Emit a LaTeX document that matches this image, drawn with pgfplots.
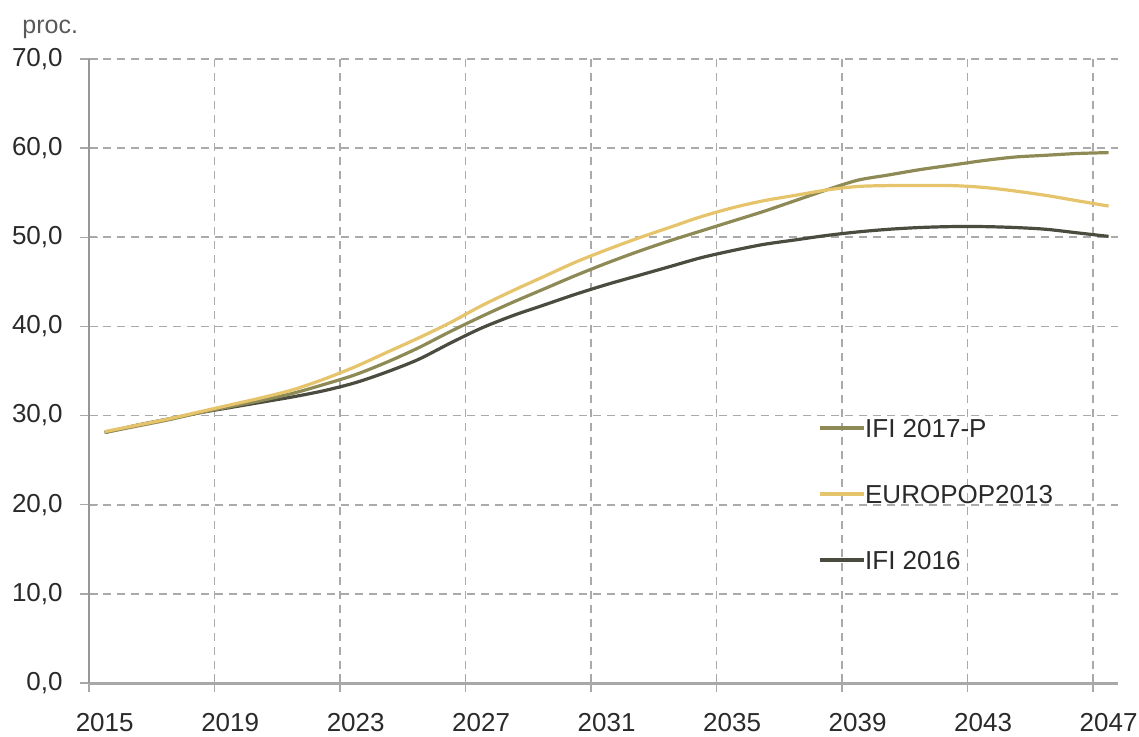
\documentclass[border=0pt]{standalone}
\usepackage{pgfplots}
\pgfplotsset{compat=1.18}
\usepackage{pgfplotstable}
\usepackage{fontspec}
\setmainfont{Liberation Sans}
\definecolor{ifiP}{HTML}{8E8A55}
\definecolor{euro}{HTML}{E6C46C}
\definecolor{ifiS}{HTML}{4B4B3F}
\definecolor{gridc}{HTML}{AAAAAA}
\definecolor{axc}{HTML}{A8A8A8}
\definecolor{txt}{HTML}{2A2A2A}

% x = year + 0.5 (values centred in each year's category)
\pgfplotstableread{
x       ifiP  euro  ifiS
2015.5  28.1  28.2  28.1
2016.5  28.8  28.9  28.9
2017.5  29.5  29.6  29.6
2018.5  30.3  30.4  30.3
2019.5  31.0  31.2  30.9
2020.5  31.7  32.0  31.5
2021.5  32.5  32.9  32.1
2022.5  33.5  34.1  32.8
2023.5  34.6  35.5  33.7
2024.5  36.0  37.1  34.9
2025.5  37.6  38.7  36.3
2026.5  39.4  40.4  38.1
2027.5  41.1  42.3  39.8
2028.5  42.7  44.0  41.2
2029.5  44.2  45.6  42.4
2030.5  45.7  47.2  43.6
2031.5  47.1  48.6  44.7
2032.5  48.4  49.9  45.7
2033.5  49.6  51.1  46.7
2034.5  50.7  52.3  47.7
2035.5  51.8  53.3  48.5
2036.5  52.9  54.1  49.2
2037.5  54.1  54.7  49.7
2038.5  55.3  55.3  50.2
2039.5  56.4  55.7  50.6
2040.5  57.0  55.8  50.9
2041.5  57.6  55.8  51.1
2042.5  58.1  55.8  51.2
2043.5  58.6  55.6  51.2
2044.5  59.0  55.2  51.1
2045.5  59.2  54.7  50.9
2046.5  59.4  54.1  50.5
2047.5  59.5  53.5  50.1
}\data

\begin{document}
\begin{tikzpicture}
\begin{axis}[
  scale only axis, width=514.5pt, height=312pt,
  at={(0,0)}, anchor=south west,
  xmin=2015, xmax=2047.8, ymin=0, ymax=70,
  axis x line*=bottom, axis y line*=left,
  x axis line style={line width=1.5pt, axc},
  y axis line style={line width=0.7pt, axc!90!black},
  xtick={2015,2019,...,2047},
  xticklabels={2015,2019,2023,2027,2031,2035,2039,2043,2047},
  ytick={0,10,...,70},
  yticklabels={{0,0},{10,0},{20,0},{30,0},{40,0},{50,0},{60,0},{70,0}},
  tick align=center, major tick length=9pt,
  tick style={axc, line width=0.7pt},
  grid=major,
  major grid style={gridc, line width=0.8pt, dash pattern=on 4pt off 3pt},
  /pgf/number format/assume math mode=true,
  ticklabel style={font=\fontsize{13}{15}\selectfont, text=txt},
  xticklabel style={anchor=north, inner sep=0pt, yshift=-10.5pt, xshift=7.85pt},
  yticklabel style={anchor=east, inner sep=0pt, xshift=-8.5pt},
  legend cell align=left,
  legend style={at={(0.708,0.303)}, anchor=west, draw=none, fill=none,
    inner sep=0pt, row sep=23.5pt, font=\fontsize{13}{15}\selectfont, text=txt,
    nodes={inner sep=0pt, text height=9.5pt, text depth=0pt}},
  legend image code/.code={\draw[#1] (0pt,0pt) -- (22pt,0pt);},
]
\addlegendimage{ifiP, line width=1.6pt}
\addlegendentry{IFI 2017-P}
\addlegendimage{euro, line width=1.6pt}
\addlegendentry{EUROPOP2013}
\addlegendimage{ifiS, line width=1.6pt}
\addlegendentry{IFI 2016}
\addplot[ifiS, line width=1.6pt, smooth, forget plot] table[x=x, y=ifiS] {\data};
\addplot[ifiP, line width=1.6pt, smooth, forget plot] table[x=x, y=ifiP] {\data};
\addplot[euro, line width=1.6pt, smooth, forget plot] table[x=x, y=euro] {\data};
\end{axis}
\node[anchor=base west, inner sep=0pt, text=black!65, font=\fontsize{12.5}{14}\selectfont] at (-33.5pt,325pt) {proc.};
\pgfresetboundingbox
\path[use as bounding box] (-44.5pt,-26.5pt) rectangle (525pt,341.5pt);
\end{tikzpicture}
\end{document}
